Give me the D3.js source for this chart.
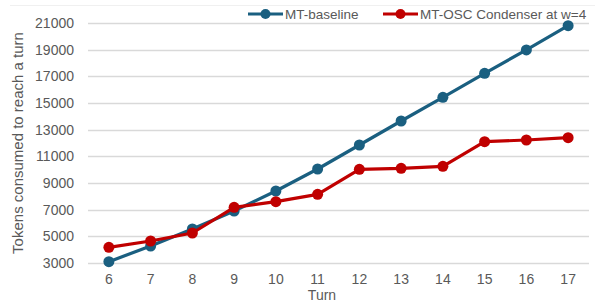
<!DOCTYPE html>
<html>
<head>
<meta charset="utf-8">
<script src="https://cdn.jsdelivr.net/npm/d3@7"></script>
<style>
  body { margin: 0; background: #fff; }
  svg { display: block; font-family: "Liberation Sans", Arial, sans-serif; }
</style>
</head>
<body>
<svg id="chart" width="595" height="303"></svg>
<script>
// chart data
turns = [6, 7, 8, 9, 10, 11, 12, 13, 14, 15, 16, 17];
baseline = [3100, 4275, 5550, 6900, 8400, 10050, 11850, 13650, 15430, 17230, 18980, 20800];
condenser = [4175, 4650, 5250, 7175, 7600, 8150, 10025, 10100, 10250, 12100, 12225, 12400];
yTicks = [3000, 5000, 7000, 9000, 11000, 13000, 15000, 17000, 19000, 21000];
seriesNames = ["MT-baseline", "MT-OSC Condenser at w=4"];
seriesColors = ["#1a5f80", "#c00000"];

width = 595;
height = 303;
margin = {left: 88, right: 6, top: 23, bottom: 40};

svg = d3.select("#chart");

x = d3.scaleBand()
    .domain(turns)
    .range([margin.left, width - margin.right]);

y = d3.scaleLinear()
    .domain([3000, 21000])
    .range([height - margin.bottom, margin.top]);

// faint border line along the top
svg.append("line")
    .attr("x1", 10).attr("x2", width)
    .attr("y1", 5.5).attr("y2", 5.5)
    .attr("stroke", "#f0f0f0");

// gridlines
svg.append("g")
    .selectAll("line")
    .data(yTicks)
    .enter().append("line")
    .attr("x1", margin.left)
    .attr("x2", width - margin.right)
    .attr("y1", d => Math.round(y(d)) + 0.5)
    .attr("y2", d => Math.round(y(d)) + 0.5)
    .attr("stroke", "#d9d9d9")
    .attr("stroke-width", 1.3);

// y axis labels
yAxis = svg.append("g")
    .attr("transform", `translate(${margin.left - 14},0)`)
    .call(d3.axisLeft(y).tickValues(yTicks).tickFormat(d3.format("d")).tickSize(0).tickPadding(0));
yAxis.select(".domain").remove();
yAxis.selectAll("text")
    .attr("fill", "#595959")
    .attr("font-size", 14)
    .attr("font-family", "Liberation Sans, Arial, sans-serif");

// x axis labels
xAxis = svg.append("g")
    .attr("transform", `translate(0,${height - margin.bottom + 11})`)
    .call(d3.axisBottom(x).tickSize(0).tickPadding(0));
xAxis.select(".domain").remove();
xAxis.selectAll("text")
    .attr("fill", "#595959")
    .attr("font-size", 14)
    .attr("font-family", "Liberation Sans, Arial, sans-serif");

// axis titles
svg.append("text")
    .attr("transform", `translate(23,${(margin.top + height - margin.bottom) / 2}) rotate(-90)`)
    .attr("text-anchor", "middle")
    .attr("fill", "#595959")
    .attr("font-size", 15)
    .text("Tokens consumed to reach a turn");

svg.append("text")
    .attr("x", 322)
    .attr("y", 300)
    .attr("text-anchor", "middle")
    .attr("fill", "#595959")
    .attr("font-size", 14)
    .text("Turn");

line = d3.line()
    .x((d, i) => x(turns[i]) + x.bandwidth() / 2)
    .y(d => y(d));

[baseline, condenser].forEach((values, s) => {
    g = svg.append("g");
    g.append("path")
        .datum(values)
        .attr("d", line)
        .attr("fill", "none")
        .attr("stroke", seriesColors[s])
        .attr("stroke-width", 3.2)
        .attr("stroke-linejoin", "round");
    g.selectAll("circle")
        .data(values)
        .enter().append("circle")
        .attr("cx", (d, i) => x(turns[i]) + x.bandwidth() / 2)
        .attr("cy", d => y(d))
        .attr("r", 5.5)
        .attr("fill", seriesColors[s]);
});

// legend
legendX = [248, 383];
legend = svg.append("g");
seriesNames.forEach((name, s) => {
    lg = legend.append("g").attr("transform", `translate(${legendX[s]},14)`);
    lg.append("line")
        .attr("x1", 0).attr("x2", 35)
        .attr("y1", 0).attr("y2", 0)
        .attr("stroke", seriesColors[s])
        .attr("stroke-width", 3.2);
    lg.append("circle")
        .attr("cx", 17.5).attr("cy", 0).attr("r", 5)
        .attr("fill", seriesColors[s]);
    lg.append("text")
        .attr("x", 37)
        .attr("y", 5)
        .attr("fill", "#595959")
        .attr("font-size", 13.5)
        .text(name);
});
</script>
</body>
</html>
